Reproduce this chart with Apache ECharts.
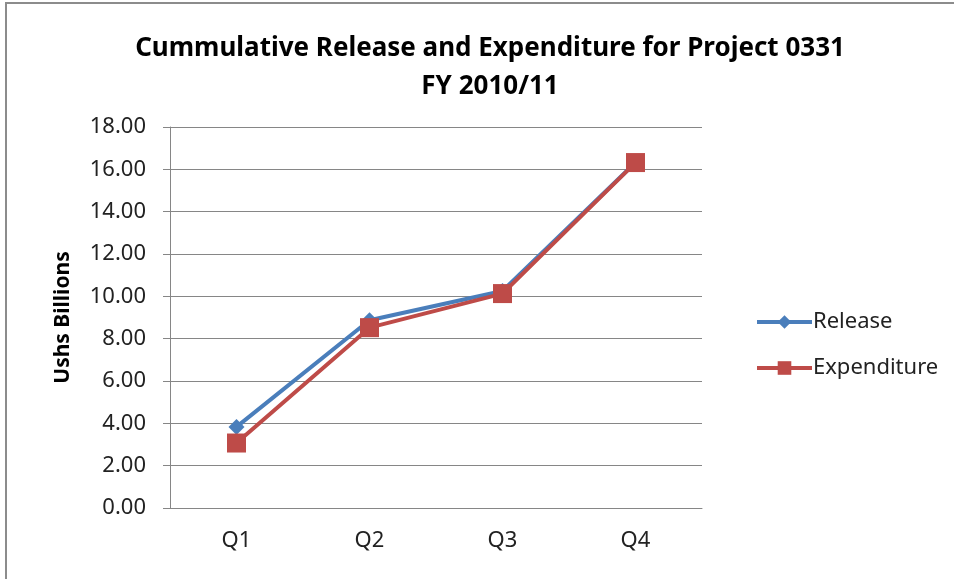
<!DOCTYPE html>
<html>
<head>
<meta charset="utf-8">
<script src="https://cdn.jsdelivr.net/npm/echarts@6/dist/echarts.min.js"></script>
<style>
  html, body { margin: 0; padding: 0; background: #fff; }
  #frame { position: absolute; left: 5px; top: 2px; width: 960px; height: 600px;
           border-left: 2px solid #8c8c8c; border-top: 2px solid #8c8c8c; }
  #chart { position: absolute; left: 0; top: 0; width: 954px; height: 579px; }
</style>
</head>
<body>
<div id="frame"></div>
<div id="chart"></div>
<script>
// quarters and cumulative amounts (Ushs billions)
const quarters = ['Q1', 'Q2', 'Q3', 'Q4'];
const release = [3.83, 8.87, 10.25, 16.32];
const expenditure = [3.07, 8.52, 10.13, 16.32];
const yTicks = { min: 0, max: 18, step: 2 };

const chart = echarts.init(document.getElementById('chart'));
chart.setOption({
    animation: false,
    title: {
        text: 'Cummulative Release and Expenditure for Project 0331\nFY 2010/11',
        left: 485,
        textAlign: 'center',
        top: 25,
        textStyle: {
            fontFamily: 'Noto Sans',
            fontWeight: 'bold',
            fontSize: 26,
            lineHeight: 38,
            color: '#000'
        }
    },
    legend: {
        orient: 'vertical',
        left: 750,
        top: 306,
        itemWidth: 55,
        itemHeight: 17,
        itemGap: 24,
        lineStyle: { width: 4 },
        textStyle: { fontFamily: 'Noto Sans', fontSize: 22, color: '#222', padding: [0, 0, 0, -4] },
        data: ['Release', 'Expenditure']
    },
    grid: { left: 170, right: 252, top: 127, bottom: 71 },
    xAxis: {
        type: 'category',
        data: quarters,
        axisLine: { lineStyle: { color: '#868686' } },
        axisTick: { length: 7, lineStyle: { color: '#868686' } },
        axisLabel: { margin: 22, fontFamily: 'Noto Sans', fontSize: 22, color: '#222' }
    },
    yAxis: {
        type: 'value',
        min: yTicks.min,
        max: yTicks.max,
        interval: yTicks.step,
        name: 'Ushs Billions',
        nameLocation: 'middle',
        nameGap: 96,
        nameTextStyle: { fontFamily: 'Noto Sans', fontWeight: 'bold', fontSize: 21, color: '#000' },
        axisLine: { show: true, lineStyle: { color: '#868686' } },
        axisTick: { show: true, length: 7, lineStyle: { color: '#868686' } },
        splitLine: { lineStyle: { color: '#868686' } },
        axisLabel: {
            margin: 24,
            fontFamily: 'Noto Sans',
            fontSize: 22,
            color: '#222',
            formatter: v => v.toFixed(2)
        }
    },
    series: [
        {
            name: 'Release',
            type: 'line',
            data: release,
            symbol: 'diamond',
            symbolSize: 16,
            color: '#4a7ebb',
            lineStyle: { width: 4, color: '#4a7ebb' },
            itemStyle: { color: '#4a7ebb' },
            z: 2
        },
        {
            name: 'Expenditure',
            type: 'line',
            data: expenditure,
            symbol: 'rect',
            symbolSize: 19,
            color: '#be4b48',
            lineStyle: { width: 4, color: '#be4b48' },
            itemStyle: { color: '#be4b48' },
            z: 3
        }
    ]
});
</script>
</body>
</html>
